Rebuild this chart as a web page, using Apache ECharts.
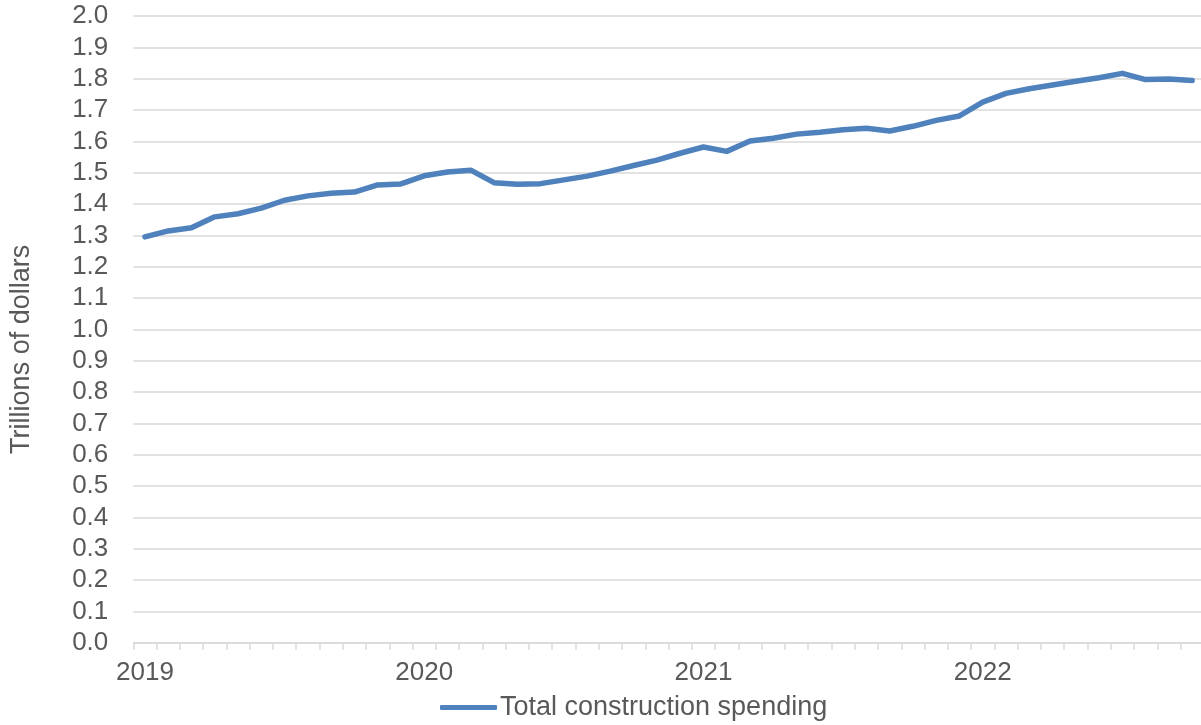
<!DOCTYPE html>
<html>
<head>
<meta charset="utf-8">
<script src="https://cdn.jsdelivr.net/npm/echarts@6/dist/echarts.min.js"></script>
<style>
  html, body { margin: 0; padding: 0; background: #ffffff; }
  #chart { width: 1201px; height: 725px; }
</style>
</head>
<body>
<div id="chart"></div>
<script>
const months = [
  "2019-01","2019-02","2019-03","2019-04","2019-05","2019-06","2019-07","2019-08","2019-09","2019-10","2019-11","2019-12",
  "2020-01","2020-02","2020-03","2020-04","2020-05","2020-06","2020-07","2020-08","2020-09","2020-10","2020-11","2020-12",
  "2021-01","2021-02","2021-03","2021-04","2021-05","2021-06","2021-07","2021-08","2021-09","2021-10","2021-11","2021-12",
  "2022-01","2022-02","2022-03","2022-04","2022-05","2022-06","2022-07","2022-08","2022-09","2022-10"
];
const spending = [
  1.295, 1.314, 1.324, 1.359, 1.369, 1.387, 1.412, 1.426, 1.434, 1.438, 1.461, 1.464,
  1.490, 1.502, 1.508, 1.468, 1.463, 1.465, 1.477, 1.489, 1.505, 1.523, 1.540, 1.562,
  1.582, 1.568, 1.601, 1.610, 1.623, 1.629, 1.637, 1.642, 1.633, 1.648, 1.667, 1.681,
  1.725, 1.753, 1.768, 1.780, 1.792, 1.803, 1.817, 1.797, 1.799, 1.794
];
const seriesName = "Total construction spending";
const yAxisTitle = "Trillions of dollars";

const chart = echarts.init(document.getElementById('chart'), null, { renderer: 'canvas' });
const textColor = '#595959';
const gridColor = '#d9d9d9';
const font = 'Liberation Sans, Arial, sans-serif';

chart.setOption({
  animation: false,
  backgroundColor: '#ffffff',
  grid: { left: 133.3, top: 16, width: 1070.5, height: 626.7, outerBoundsMode: 'none', containLabel: false },
  legend: {
    data: [seriesName],
    left: 440, top: 694,
    padding: 0,
    icon: 'roundRect',
    itemWidth: 57, itemHeight: 5, itemGap: 4,
    textStyle: { color: textColor, fontSize: 27, fontFamily: font, padding: [0, 0, 0, -2] }
  },
  xAxis: {
    type: 'category',
    data: months,
    boundaryGap: true,
    axisLine: { show: true, lineStyle: { color: gridColor, width: 1.5 } },
    axisTick: { show: true, interval: 0, length: 7, lineStyle: { color: gridColor, width: 1.5 } },
    axisLabel: {
      interval: (idx) => idx % 12 === 0,
      formatter: (v) => v.slice(0, 4),
      margin: 17,
      color: textColor, fontSize: 26, fontFamily: font
    },
    splitLine: { show: false }
  },
  yAxis: {
    type: 'value',
    min: 0, max: 2, interval: 0.1,
    name: yAxisTitle,
    nameLocation: 'middle',
    nameRotate: 90,
    nameGap: 98,
    nameTextStyle: { color: textColor, fontSize: 27, fontFamily: font, padding: [0, 40, 0, 0] },
    axisLine: { show: false },
    axisTick: { show: false },
    axisLabel: {
      formatter: (v) => v.toFixed(1),
      margin: 25,
      color: textColor, fontSize: 26, fontFamily: font
    },
    splitLine: { show: true, lineStyle: { color: gridColor, width: 1.5 } }
  },
  series: [{
    name: seriesName,
    type: 'line',
    data: spending,
    symbol: 'none',
    showSymbol: false,
    smooth: false,
    lineStyle: { color: '#4f81bd', width: 5.5, join: 'round', cap: 'round' },
    itemStyle: { color: '#4f81bd' }
  }]
});
</script>
</body>
</html>
